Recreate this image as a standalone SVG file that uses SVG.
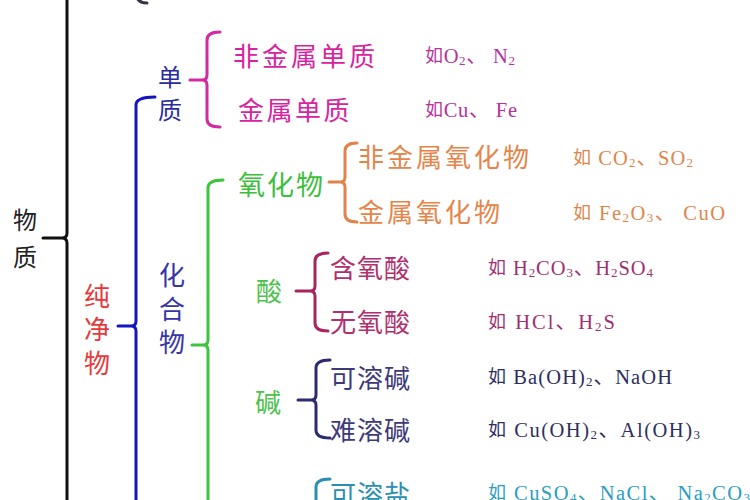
<svg xmlns="http://www.w3.org/2000/svg" width="750" height="500" viewBox="0 0 750 500">
<style>
.br{fill:none;stroke-width:3;stroke-linecap:round;stroke-linejoin:round}
.cn{font-family:"Noto Sans CJK SC","Noto Sans",sans-serif;dominant-baseline:central}
.ex{font-family:"Liberation Serif","Noto Sans CJK SC",serif;font-size:20.5px;dominant-baseline:central}
.ru{font-size:18px}
.sb{font-size:13px}
</style>
<rect width="750" height="500" fill="#ffffff"/>
<g id="connectors">
<path class="br" stroke="#111111" d="M67,-10 V233 Q67,238 62,238 Q67,238 67,243 V510 M62,238 H43"/>
<path class="br" stroke="#333344" d="M147,3 Q136,3 136,-8"/>
<path class="br" stroke="#1414c0" d="M155,97 Q136,97 136,105 V321 Q136,326 131,326 Q136,326 136,331 V510 M131,326 H118"/>
<path class="br" stroke="#d22aa5" d="M220,32 Q207,32 207,40 V75 Q207,80 202,80 Q207,80 207,85 V119 Q207,127 220,127 M202,80 H190"/>
<path class="br" stroke="#3cc43c" d="M223,180 Q208,180 208,188 V340 Q208,345 203,345 Q208,345 208,350 V510 M203,345 H192"/>
<path class="br" stroke="#e0844a" d="M357,143 Q345,143 345,151 V177 Q345,182 340,182 Q345,182 345,187 V214 Q345,222 357,222 M340,182 H329"/>
<path class="br" stroke="#a8245e" d="M328,253 Q315,253 315,261 V286 Q315,291 310,291 Q315,291 315,296 V323 Q315,331 328,331 M310,291 H296"/>
<path class="br" stroke="#2e2a6e" d="M330,360 Q316,360 316,368 V395 Q316,400 311,400 Q316,400 316,405 V430 Q316,438 330,438 M311,400 H298"/>
<path class="br" stroke="#2a8fb2" d="M330,479 Q316,479 316,487 V510"/>
</g>
<g id="wuzhi"><text class="cn" font-size="24" fill="#222222" x="25" y="218" text-anchor="middle">物</text><text class="cn" font-size="24" fill="#222222" x="25" y="255" text-anchor="middle">质</text></g>
<g id="chunjingwu"><text class="cn" font-size="26" fill="#e8383a" x="97" y="294" text-anchor="middle">纯</text><text class="cn" font-size="26" fill="#e8383a" x="97" y="327" text-anchor="middle">净</text><text class="cn" font-size="26" fill="#e8383a" x="97" y="361" text-anchor="middle">物</text></g>
<g id="danzhi"><text class="cn" font-size="24" fill="#2b2ba0" x="170" y="75" text-anchor="middle">单</text><text class="cn" font-size="24" fill="#2b2ba0" x="170" y="108" text-anchor="middle">质</text></g>
<g id="huahewu"><text class="cn" font-size="26" fill="#3535a5" x="172" y="273" text-anchor="middle">化</text><text class="cn" font-size="26" fill="#3535a5" x="172" y="307" text-anchor="middle">合</text><text class="cn" font-size="26" fill="#3535a5" x="172" y="340" text-anchor="middle">物</text></g>
<g id="feijinshudanzhi"><text class="cn" font-size="26" fill="#d6249f" x="233" y="54" letter-spacing="3">非金属单质</text><text class="ex" fill="#b8309a" x="425" y="56" textLength="90" lengthAdjust="spacing"><tspan class="ru">如</tspan>O<tspan class="sb" dy="4">2</tspan><tspan dy="-4">、 N</tspan><tspan class="sb" dy="4">2</tspan></text></g>
<g id="jinshudanzhi"><text class="cn" font-size="26" fill="#d6249f" x="238" y="108" letter-spacing="2.5">金属单质</text><text class="ex" fill="#b8309a" x="425" y="110" textLength="92" lengthAdjust="spacing"><tspan class="ru">如</tspan>Cu、 Fe</text></g>
<g id="yanghuawu"><text class="cn" font-size="27" fill="#3cbf3c" x="238" y="183" letter-spacing="2">氧化物</text></g>
<g id="feijinshuyanghuawu"><text class="cn" font-size="26" fill="#e5854a" x="358" y="155" letter-spacing="3">非金属氧化物</text><text class="ex" fill="#e0864d" x="573" y="158" textLength="120" lengthAdjust="spacing"><tspan class="ru">如</tspan> CO<tspan class="sb" dy="4">2</tspan><tspan dy="-4">、SO</tspan><tspan class="sb" dy="4">2</tspan></text></g>
<g id="jinshuyanghuawu"><text class="cn" font-size="26" fill="#e5854a" x="358" y="210" letter-spacing="3">金属氧化物</text><text class="ex" fill="#e0864d" x="573" y="213" textLength="152" lengthAdjust="spacing"><tspan class="ru">如</tspan> Fe<tspan class="sb" dy="4">2</tspan><tspan dy="-4">O</tspan><tspan class="sb" dy="4">3</tspan><tspan dy="-4">、 CuO</tspan></text></g>
<g id="suan"><text class="cn" font-size="26" fill="#4cc24c" x="269" y="289" text-anchor="middle">酸</text></g>
<g id="hanyangsuan"><text class="cn" font-size="26" fill="#b0306e" x="330" y="266" letter-spacing="1">含氧酸</text><text class="ex" fill="#a03070" x="488" y="268" textLength="165" lengthAdjust="spacing"><tspan class="ru">如</tspan> H<tspan class="sb" dy="4">2</tspan><tspan dy="-4">CO</tspan><tspan class="sb" dy="4">3</tspan><tspan dy="-4">、H</tspan><tspan class="sb" dy="4">2</tspan><tspan dy="-4">SO</tspan><tspan class="sb" dy="4">4</tspan></text></g>
<g id="wuyangsuan"><text class="cn" font-size="26" fill="#b0306e" x="330" y="320" letter-spacing="1">无氧酸</text><text class="ex" fill="#a03070" x="488" y="322" textLength="127" lengthAdjust="spacing"><tspan class="ru">如</tspan>  HCl、H<tspan class="sb" dy="4">2</tspan><tspan dy="-4">S</tspan></text></g>
<g id="jian"><text class="cn" font-size="26" fill="#4cc24c" x="268" y="400" text-anchor="middle">碱</text></g>
<g id="kerongjian"><text class="cn" font-size="26" fill="#3d3a7a" x="330" y="376" letter-spacing="1">可溶碱</text><text class="ex" fill="#2e2e60" x="488" y="377" textLength="184" lengthAdjust="spacing"><tspan class="ru">如</tspan> Ba(OH)<tspan class="sb" dy="4">2</tspan><tspan dy="-4">、NaOH</tspan></text></g>
<g id="nanrongjian"><text class="cn" font-size="26" fill="#3d3a7a" x="330" y="428" letter-spacing="1">难溶碱</text><text class="ex" fill="#2e2e60" x="488" y="430" textLength="212" lengthAdjust="spacing"><tspan class="ru">如</tspan>  Cu(OH)<tspan class="sb" dy="4">2</tspan><tspan dy="-4">、Al(OH)</tspan><tspan class="sb" dy="4">3</tspan></text></g>
<g id="kerongyan"><text class="cn" font-size="26" fill="#2a8fb0" x="330" y="492" letter-spacing="1">可溶盐</text><text class="ex" fill="#2a9ec0" x="488" y="493" textLength="262" lengthAdjust="spacing"><tspan class="ru">如</tspan> CuSO<tspan class="sb" dy="4">4</tspan><tspan dy="-4">、NaCl、 Na</tspan><tspan class="sb" dy="4">2</tspan><tspan dy="-4">CO</tspan><tspan class="sb" dy="4">3</tspan></text></g>
</svg>
